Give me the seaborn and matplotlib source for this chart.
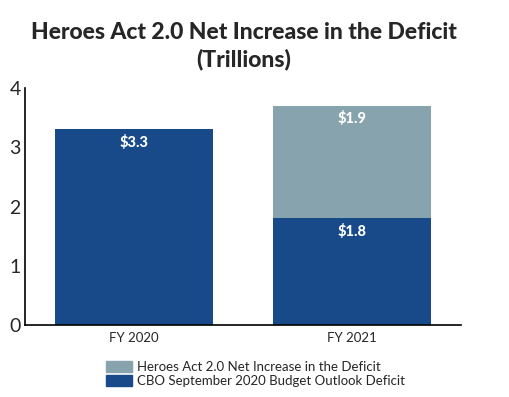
import numpy as np
import seaborn as sns
import matplotlib.pyplot as plt
from matplotlib.patches import Patch

# data (trillions of dollars)
years = ["FY 2020", "FY 2021"]
cbo_deficit = [3.3, 1.8]
heroes_increase = [0.0, 1.9]
legend_labels = ["Heroes Act 2.0 Net Increase in the Deficit",
                 "CBO September 2020 Budget Outlook Deficit"]

blue = "#184A8A"
grey = "#87A3AE"

sns.set_style("white")
plt.rcParams["font.family"] = ["Lato", "DejaVu Sans"]

totals = np.array(cbo_deficit) + np.array(heroes_increase)

fig = plt.figure(figsize=(5.10, 3.97), dpi=100)
ax = fig.add_axes([25 / 510, 1 - 325 / 397, 436 / 510, 237 / 397])

# stacked bars: total first, base on top of it
sns.barplot(x=years, y=totals, color=grey, width=0.725, saturation=1, linewidth=0, ax=ax)
sns.barplot(x=years, y=cbo_deficit, color=blue, width=0.725, saturation=1, linewidth=0, ax=ax)

ax.set_xlim(-0.5, 1.5)
ax.set_ylim(0, 4)
ax.set_yticks([0, 1, 2, 3, 4])
ax.tick_params(axis="y", length=0, labelsize=14, pad=3)
ax.tick_params(axis="x", which="major", length=0, labelsize=9.5, pad=5)
ax.set_xticks([-0.5, 0.5, 1.5], minor=True)
ax.tick_params(axis="x", which="minor", direction="in", length=4.5, width=1.2, color="black")

for side in ["top", "right"]:
    ax.spines[side].set_visible(False)
for side in ["left", "bottom"]:
    ax.spines[side].set_color("black")
    ax.spines[side].set_linewidth(1.2)

# value labels near top of each segment
for i in range(len(years)):
    ax.annotate(f"${cbo_deficit[i]:.1f}", (i, cbo_deficit[i]), xytext=(0, -9.5),
                textcoords="offset points", ha="center", va="center",
                color="white", fontweight="black", fontsize=10.5)
    if heroes_increase[i] > 0:
        ax.annotate(f"${heroes_increase[i]:.1f}", (i, totals[i]), xytext=(0, -9.5),
                    textcoords="offset points", ha="center", va="center",
                    color="white", fontweight="black", fontsize=10.5)

fig.text(244 / 510, 1 - 46 / 397, "Heroes Act 2.0 Net Increase in the Deficit\n(Trillions)",
         ha="center", va="center", fontsize=16.5, fontweight="black", linespacing=1.3)

handles = [Patch(color=grey), Patch(color=blue)]
fig.legend(handles, legend_labels, loc="upper left", bbox_to_anchor=(99 / 510, 1 - 354 / 397),
           frameon=False, fontsize=9.5, handlelength=2.0, handleheight=0.9,
           handletextpad=0.35, labelspacing=0.2, borderpad=0)

fig.savefig("out.png", dpi=100)
